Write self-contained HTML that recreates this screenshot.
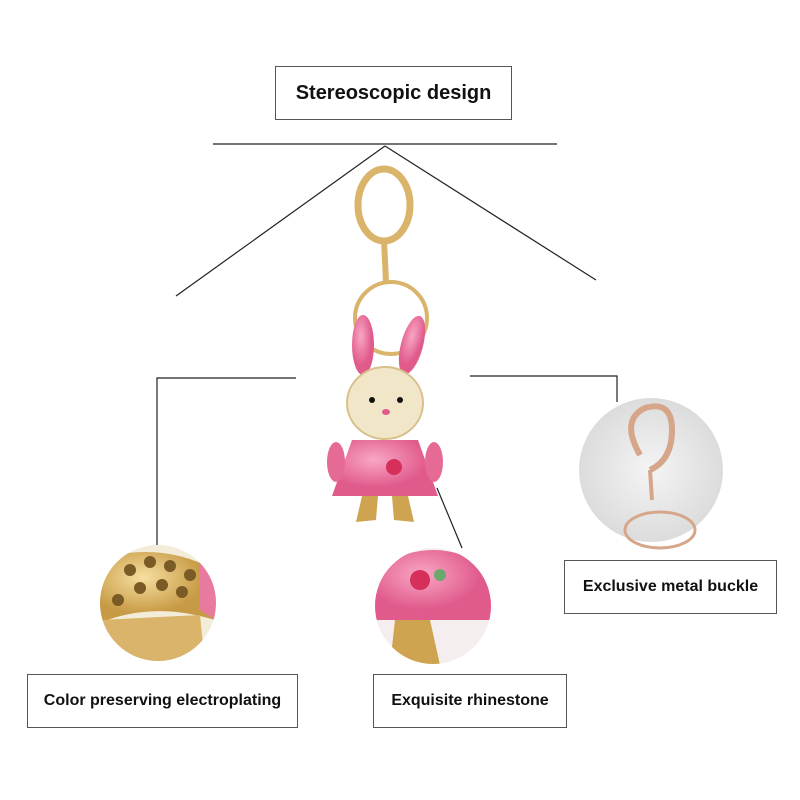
<!DOCTYPE html>
<html><head><meta charset="utf-8"><style>
body{margin:0;background:#fff;}
.box{position:absolute;border:1px solid #555;background:#fff;font-family:"Liberation Sans",sans-serif;font-weight:bold;color:#111;display:flex;align-items:center;justify-content:center;box-sizing:border-box;}
</style></head><body>
<div style="position:relative;width:800px;height:800px;overflow:hidden;">
<svg width="800" height="800" style="position:absolute;left:0;top:0">
<defs>
<radialGradient id="gold" cx="40%" cy="35%"><stop offset="0" stop-color="#f6dfa0"/><stop offset="1" stop-color="#c79a45"/></radialGradient>
<radialGradient id="pink" cx="40%" cy="35%"><stop offset="0" stop-color="#f9a6c4"/><stop offset="1" stop-color="#e05a8c"/></radialGradient>
<radialGradient id="grey" cx="50%" cy="50%"><stop offset="0" stop-color="#f4f4f4"/><stop offset="1" stop-color="#dcdcdc"/></radialGradient>
<clipPath id="c1"><circle cx="158" cy="603" r="58"/></clipPath>
<clipPath id="c2"><circle cx="433" cy="606" r="58"/></clipPath>
</defs>
<g stroke="#222" stroke-width="1.2" fill="none">
<line x1="213" y1="144" x2="557" y2="144"/>
<line x1="385" y1="146" x2="176" y2="296"/>
<line x1="385" y1="146" x2="596" y2="280"/>
<polyline points="296,378 157,378 157,545"/>
<polyline points="470,376 617,376 617,402"/>
<line x1="437" y1="488" x2="462" y2="548"/>
</g>
<!-- keychain clasp -->
<g fill="none" stroke="#d9b46a" stroke-width="7">
<ellipse cx="384" cy="205" rx="26" ry="36"/>
<circle cx="391" cy="318" r="36" stroke-width="4"/>
<line x1="384" y1="240" x2="386" y2="282" stroke-width="6"/>
</g>
<!-- ears -->
<ellipse cx="363" cy="345" rx="11" ry="30" fill="url(#pink)"/>
<ellipse cx="412" cy="345" rx="11" ry="30" fill="url(#pink)" transform="rotate(15 412 345)"/>
<!-- head -->
<ellipse cx="385" cy="403" rx="38" ry="36" fill="#f1e6c8" stroke="#d8c08a" stroke-width="2"/>
<circle cx="372" cy="400" r="3" fill="#111"/><circle cx="400" cy="400" r="3" fill="#111"/>
<ellipse cx="386" cy="412" rx="4" ry="3" fill="#e05a8c"/>
<!-- body -->
<path d="M352 440 L418 440 L438 496 L332 496 Z" fill="url(#pink)"/>
<circle cx="394" cy="467" r="8" fill="#d62f5a"/>
<ellipse cx="336" cy="462" rx="9" ry="20" fill="#e56b96"/>
<ellipse cx="434" cy="462" rx="9" ry="20" fill="#e56b96"/>
<!-- feet -->
<path d="M362 496 L378 496 L376 520 L356 522 Z" fill="#cfa450"/>
<path d="M392 496 L408 496 L414 522 L394 520 Z" fill="#cfa450"/>
<!-- left circle -->
<circle cx="158" cy="603" r="58" fill="#f3ecd8"/>
<g clip-path="url(#c1)">
<path d="M95 560 Q160 540 215 570 L215 620 Q150 600 95 625 Z" fill="url(#gold)"/>
<g fill="#7a5a25"><circle cx="130" cy="570" r="6"/><circle cx="150" cy="562" r="6"/><circle cx="170" cy="566" r="6"/><circle cx="190" cy="575" r="6"/><circle cx="140" cy="588" r="6"/><circle cx="162" cy="585" r="6"/><circle cx="182" cy="592" r="6"/><circle cx="118" cy="600" r="6"/></g>
<path d="M100 620 L200 615 L205 665 L100 665 Z" fill="#d9b46a"/>
<path d="M200 560 L216 580 L216 620 L200 610 Z" fill="#e87aa0"/>
</g>
<!-- middle circle -->
<circle cx="433" cy="606" r="58" fill="#f5eeee"/>
<g clip-path="url(#c2)">
<path d="M375 570 Q433 530 492 570 L492 620 L375 620 Z" fill="url(#pink)"/>
<circle cx="420" cy="580" r="10" fill="#d62f5a"/><circle cx="440" cy="575" r="6" fill="#6aa86b"/>
<path d="M395 620 L430 620 L440 665 L390 665 Z" fill="#cfa450"/>
</g>
<!-- right circle -->
<circle cx="651" cy="470" r="72" fill="url(#grey)"/>
<g fill="none" stroke="#d6a68a" stroke-width="6">
<path d="M640 455 Q620 420 645 408 Q672 400 672 430 Q672 460 650 470"/>
<line x1="650" y1="470" x2="652" y2="500" stroke-width="4"/>
<ellipse cx="660" cy="530" rx="35" ry="18" stroke-width="3"/>
</g>
</svg>
<div class="box" style="left:275px;top:66px;width:237px;height:54px;font-size:20px;">Stereoscopic design</div>
<div class="box" style="left:564px;top:560px;width:213px;height:54px;font-size:16px;">Exclusive metal buckle</div>
<div class="box" style="left:27px;top:674px;width:271px;height:54px;font-size:16px;">Color preserving electroplating</div>
<div class="box" style="left:373px;top:674px;width:194px;height:54px;font-size:16px;">Exquisite rhinestone</div>
</div>
</body></html>
